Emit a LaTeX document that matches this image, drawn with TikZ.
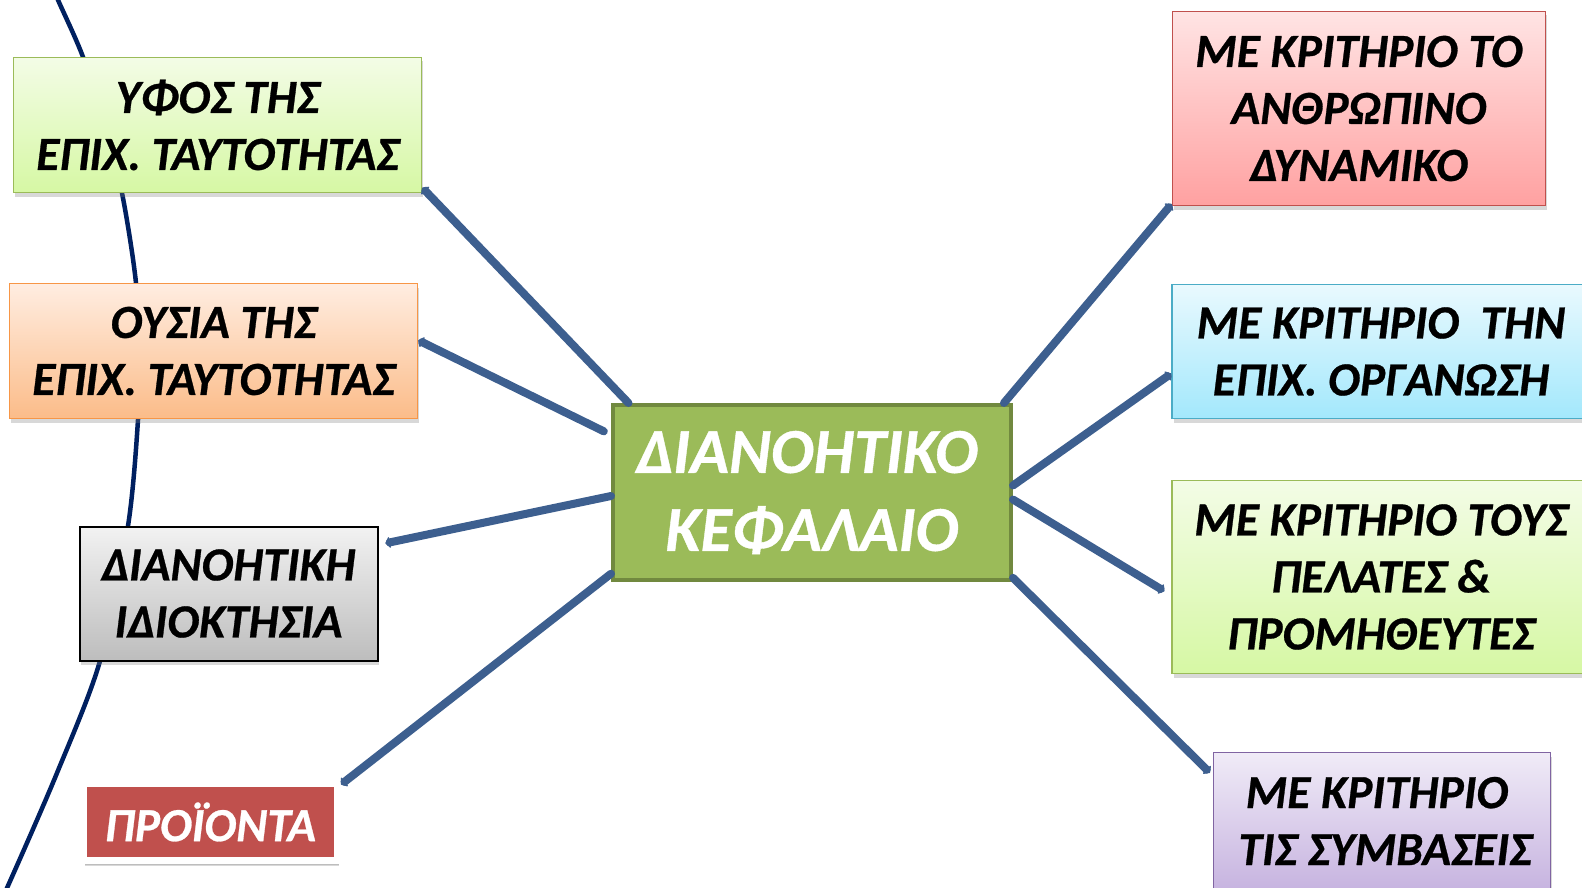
\documentclass[tikz,border=0pt]{standalone}
\usepackage{fontspec}
\setmainfont{Carlito}[BoldItalicFeatures={FakeBold=0.6}]
\usetikzlibrary{shadows,arrows.meta,calc}
\definecolor{conncol}{HTML}{3D5F8F}
\definecolor{navy}{HTML}{002060}
\definecolor{olivefill}{HTML}{9BBB59}
\definecolor{olivedraw}{HTML}{71893F}
\definecolor{gtop}{HTML}{F3FCE6}\definecolor{gbot}{HTML}{D6F8A4}
\definecolor{odraw}{HTML}{F79646}\definecolor{otop}{HTML}{FFEDE1}\definecolor{obot}{HTML}{FBBC89}
\definecolor{ytop}{HTML}{F2F2F2}\definecolor{ybot}{HTML}{BDBDBD}
\definecolor{rdraw}{HTML}{C0504D}\definecolor{rtop}{HTML}{FFE4E4}\definecolor{rbot}{HTML}{FFA1A1}
\definecolor{bdraw}{HTML}{4BACC6}\definecolor{btop}{HTML}{E9F9FE}\definecolor{bbot}{HTML}{A3E8FC}
\definecolor{pdraw}{HTML}{8064A2}\definecolor{ptop}{HTML}{F0EBF7}\definecolor{pbot}{HTML}{C7B4E0}
\definecolor{prfill}{HTML}{C0504D}
\begin{document}
\begin{tikzpicture}[x=1pt,y=-1pt,
  box/.style={draw, line width=1.5pt, inner sep=0pt, align=center,
    font=\fontsize{47.5}{57}\selectfont\bfseries\itshape,
    drop shadow={shadow xshift=1.5pt, shadow yshift=-4pt, opacity=0.3}},
  greenbox/.style={box, draw=olivefill, top color=gtop, bottom color=gbot},
  orangebox/.style={box, draw=odraw, top color=otop, bottom color=obot},
  greybox/.style={box, draw=black, line width=2pt, top color=ytop, bottom color=ybot},
  redbox/.style={box, draw=rdraw, top color=rtop, bottom color=rbot},
  bluebox/.style={box, draw=bdraw, top color=btop, bottom color=bbot},
  purplebox/.style={box, draw=pdraw, top color=ptop, bottom color=pbot},
  conn/.style={draw=conncol, line width=8pt, line cap=round,
    -{Triangle[length=5pt,width=13pt,round]}},
  curve/.style={draw=navy, line width=4.5pt}
]
\clip (0,0) rectangle (1582,888);
\fill[white] (0,0) rectangle (1582,888);
\draw[curve] plot[smooth] coordinates {(45,-30) (58,0) (83,57) (104,125) (122,193) (136,283) (139,360) (138,420) (128,526) (100,661) (57,773) (7,888) (-8,918)};

\node[greenbox, minimum width=408pt, minimum height=135pt] (yfos) at (217.5,125) {ΥΦΟΣ ΤΗΣ\\ΕΠΙΧ. ΤΑΥΤΟΤΗΤΑΣ};
\node[orangebox, minimum width=408pt, minimum height=135pt] (ousia) at (213.5,351) {ΟΥΣΙΑ ΤΗΣ\\ΕΠΙΧ. ΤΑΥΤΟΤΗΤΑΣ};
\node[greybox, minimum width=298pt, minimum height=134pt] (idio) at (228.5,593.5) {ΔΙΑΝΟΗΤΙΚΗ\\ΙΔΙΟΚΤΗΣΙΑ};
\node[box, draw=white, line width=7pt, fill=prfill, text=white, minimum width=254pt, minimum height=77pt,
  drop shadow={shadow xshift=1.5pt, shadow yshift=-5pt, opacity=0.3}] (proionta) at (210.5,822) {ΠΡΟΪΟΝΤΑ};

\node[draw=olivedraw, fill=olivefill, line width=4pt, inner sep=0pt, align=center, text=white,
  font=\fontsize{64}{78}\selectfont\bfseries\itshape, minimum width=398pt, minimum height=175pt] (center) at (812,492.5) {ΔΙΑΝΟΗΤΙΚΟ\hspace*{10pt}\\ΚΕΦΑΛΑΙΟ};

\node[redbox, minimum width=373pt, minimum height=194pt] (anthr) at (1359,108.5) {ΜΕ ΚΡΙΤΗΡΙΟ ΤΟ\\ΑΝΘΡΩΠΙΝΟ\hspace*{13pt}\\ΔΥΝΑΜΙΚΟ};
\node[bluebox, minimum width=418pt, minimum height=134pt] (organ) at (1381,351.5) {ΜΕ ΚΡΙΤΗΡΙΟ \ ΤΗΝ\\ΕΠΙΧ. ΟΡΓΑΝΩΣΗ};
\node[greenbox, minimum width=418pt, minimum height=193pt] (pelates) at (1381,577) {ΜΕ ΚΡΙΤΗΡΙΟ ΤΟΥΣ\\ΠΕΛΑΤΕΣ \&\\ΠΡΟΜΗΘΕΥΤΕΣ};
\node[purplebox, minimum width=337pt, minimum height=137pt] (symv) at (1382,821) {ΜΕ ΚΡΙΤΗΡΙΟ\hspace*{10pt}\\\hspace*{6pt}ΤΙΣ ΣΥΜΒΑΣΕΙΣ};

\draw[conn] (center.154.2) -- (yfos.343.4);
\draw[conn, shorten <=8pt] (center.164.8) -- (ousia.3.7);
\draw[conn, shorten >=7pt] (center.181) -- (idio.18.7);
\draw[conn] (center.202.5) -- (proionta.16);
\draw[conn] (center.25) -- (anthr.207);
\draw[conn] (center.2) -- (organ.186.9);
\draw[conn, shorten >=8pt] (center.358) -- (pelates.185.7);
\draw[conn, shorten >=4pt] (center.337.5) -- (symv.165.4);
\end{tikzpicture}
\end{document}
